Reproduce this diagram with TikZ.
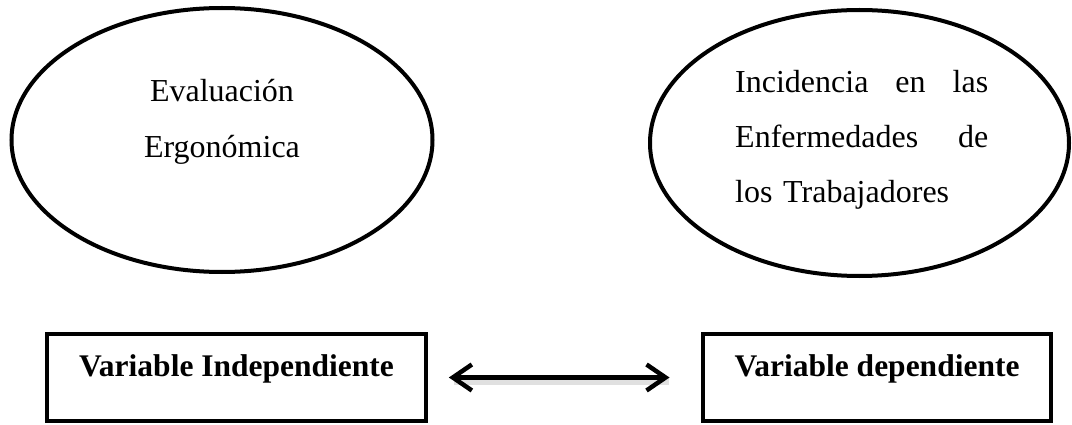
\documentclass[tikz,border=0pt]{standalone}
\usepackage{fontspec}
\setmainfont{Liberation Serif}
\usetikzlibrary{shapes.geometric,arrows.meta}
\begin{document}
\begin{tikzpicture}[x=1pt,y=-1pt,
 oval/.style={draw, line width=4pt, ellipse, inner sep=0pt},
 varbox/.style={draw, line width=4pt, rectangle, inner xsep=32pt, inner ysep=0pt,
   text height=42pt, text depth=45pt, font=\fontsize{31.5}{36}\selectfont\bfseries},
 txt/.style={inner sep=0pt, font=\fontsize{32}{56}\selectfont},
 tip/.style={Straight Barb[length=19pt,width=26pt]},
 link/.style={line width=4.5pt, {Straight Barb[length=19pt,width=26pt]}-{Straight Barb[length=19pt,width=26pt]},
   shorten <=21pt, shorten >=31pt},
 linkshadow/.style={line width=7pt, black, opacity=0.12, shorten <=24pt, shorten >=34pt}
]
\useasboundingbox (0,0) rectangle (1072,425);
\node[oval, minimum width=421pt, minimum height=264pt] (e1) at (222,140) {};
\node[oval, minimum width=419pt, minimum height=266pt] (e2) at (859.5,143) {};
\node[txt, anchor=base, text width=220pt, align=center] (t1) at (222,102) {Evaluación\\Ergonómica};
\node[txt, anchor=base west, text width=253pt, align=left, font=\fontsize{32}{55}\selectfont] (t2) at (735,93)
  {Incidencia\hfill en\hfill las\\Enfermedades\hfill de\\los Trabajadores};
\node[varbox, anchor=base] (lb) at (236.5,376) {Variable Independiente};
\node[varbox, anchor=base] (rb) at (877,376) {Variable dependiente};
\draw[linkshadow, transform canvas={shift={(2pt,-4pt)}}] (lb) -- (rb);
\draw[link] (lb) -- (rb);
\end{tikzpicture}
\end{document}
